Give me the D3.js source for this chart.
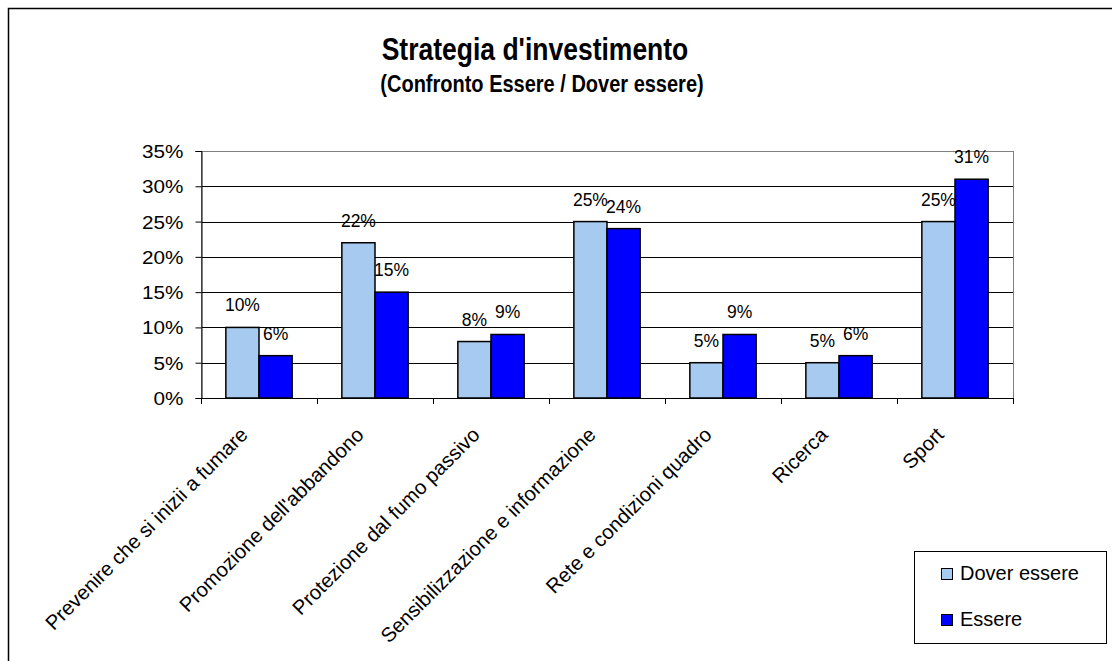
<!DOCTYPE html>
<html><head><meta charset="utf-8">
<script src="https://cdn.jsdelivr.net/npm/d3@7"></script>
<style>body{margin:0;background:#fff;}svg{display:block;font-family:"Liberation Sans",Arial,sans-serif;}</style>
</head><body>
<svg id="c" width="1112" height="661"></svg>
<script>
const categories = ["Prevenire che si inizii a fumare","Promozione dell'abbandono","Protezione dal fumo passivo","Sensibilizzazione e informazione","Rete e condizioni quadro","Ricerca","Sport"];
const seriesNames = ["Dover essere","Essere"];
const doverEssere = [0.10,0.22,0.08,0.25,0.05,0.05,0.25];
const essere = [0.06,0.15,0.09,0.24,0.09,0.06,0.31];
const yTicks = [0,0.05,0.10,0.15,0.20,0.25,0.30,0.35];
const colors = ["#a6caf0","#0000ff"];

const svg = d3.select("#c");
const W=1112,H=661;
svg.append("rect").attr("x",8.5).attr("y",8.5).attr("width",W+20).attr("height",H+20).attr("fill","#fff").attr("stroke","#000").attr("stroke-width",1.5);

const L=201,R=1013,T=151,B=398;
const x = d3.scaleBand().domain(categories).range([L,R]).paddingInner(0).paddingOuter(0);
const y = d3.scaleLinear().domain([0,0.35]).range([B,T]);

// gridlines
svg.append("g").selectAll("line").data(yTicks.slice(1)).join("line")
  .attr("x1",L).attr("x2",R).attr("y1",d=>Math.round(y(d))+0.5).attr("y2",d=>Math.round(y(d))+0.5)
  .attr("stroke","#000").attr("stroke-width",1);
// plot border
svg.append("rect").attr("x",L+0.5).attr("y",Math.round(T)+0.5).attr("width",R-L).attr("height",B-Math.round(T))
  .attr("fill","none").attr("stroke","#808080");

const data = [doverEssere, essere];
const bw = x.bandwidth()/3.5;
const off = x.bandwidth()*0.75/3.5;
seriesNames.forEach((s,si)=>{
  const g = svg.append("g");
  g.selectAll("rect").data(categories).join("rect")
    .attr("x",(c)=>x(c)+off+si*bw)
    .attr("y",(c,i)=>y(data[si][i]))
    .attr("width",bw).attr("height",(c,i)=>B-y(data[si][i]))
    .attr("fill",colors[si]).attr("stroke","#000").attr("stroke-width",1.5);
  g.selectAll("text").data(categories).join("text")
    .attr("x",(c)=>x(c)+off+si*bw+bw/2)
    .attr("y",(c,i)=>y(data[si][i])-16)
    .attr("text-anchor","middle").attr("font-size",17.5).attr("fill","#000")
    .text((c,i)=>Math.round(data[si][i]*100)+"%");
});

// y axis
const yAxis = d3.axisLeft(y).tickValues(yTicks).tickFormat(d=>Math.round(d*100)+"%").tickSize(6).tickPadding(0);
const ya = svg.append("g").attr("transform",`translate(${L+0.5},0)`).call(yAxis);
ya.select(".domain").attr("stroke","#000");
ya.selectAll(".tick line").attr("stroke","#000");
ya.selectAll(".tick text")
  .attr("x",null).attr("dy",null)
  .attr("transform","translate(-18,6.5) scale(1.15,1)")
  .attr("font-size",18).attr("font-family","Liberation Sans, Arial").attr("fill","#000");

// x axis
const xg = svg.append("g");
xg.append("line").attr("x1",L).attr("x2",R+1).attr("y1",B+0.5).attr("y2",B+0.5).attr("stroke","#000");
xg.selectAll("line.t").data(d3.range(categories.length+1)).join("line").attr("class","t")
  .attr("x1",i=>Math.round(L+i*x.bandwidth())+0.5).attr("x2",i=>Math.round(L+i*x.bandwidth())+0.5)
  .attr("y1",B).attr("y2",B+6).attr("stroke","#000");
xg.selectAll("text").data(categories).join("text")
  .attr("transform",c=>`translate(${x(c)+x.bandwidth()/2-10},${B+38}) rotate(-45)`)
  .attr("text-anchor","end").attr("font-size",20.3).attr("fill","#000").text(c=>c);

// title
svg.append("text").attr("transform","translate(535,60) scale(1,1.15)").attr("text-anchor","middle").attr("font-size",26.5).attr("font-weight","bold").text("Strategia d'investimento");
svg.append("text").attr("transform","translate(542,91.5) scale(1,1.15)").attr("text-anchor","middle").attr("font-size",20).attr("font-weight","bold").text("(Confronto Essere / Dover essere)");

// legend
const lg = svg.append("g");
lg.append("rect").attr("x",914.5).attr("y",551.5).attr("width",192).attr("height",92).attr("fill","#fff").attr("stroke","#000");
seriesNames.forEach((s,i)=>{
  lg.append("rect").attr("x",941.5).attr("y",568.5+i*46).attr("width",11).attr("height",11).attr("fill",colors[i]).attr("stroke","#000");
  lg.append("text").attr("x",960).attr("y",579.5+i*46).attr("font-size",20).attr("fill","#000").text(s);
});
</script>
</body></html>
